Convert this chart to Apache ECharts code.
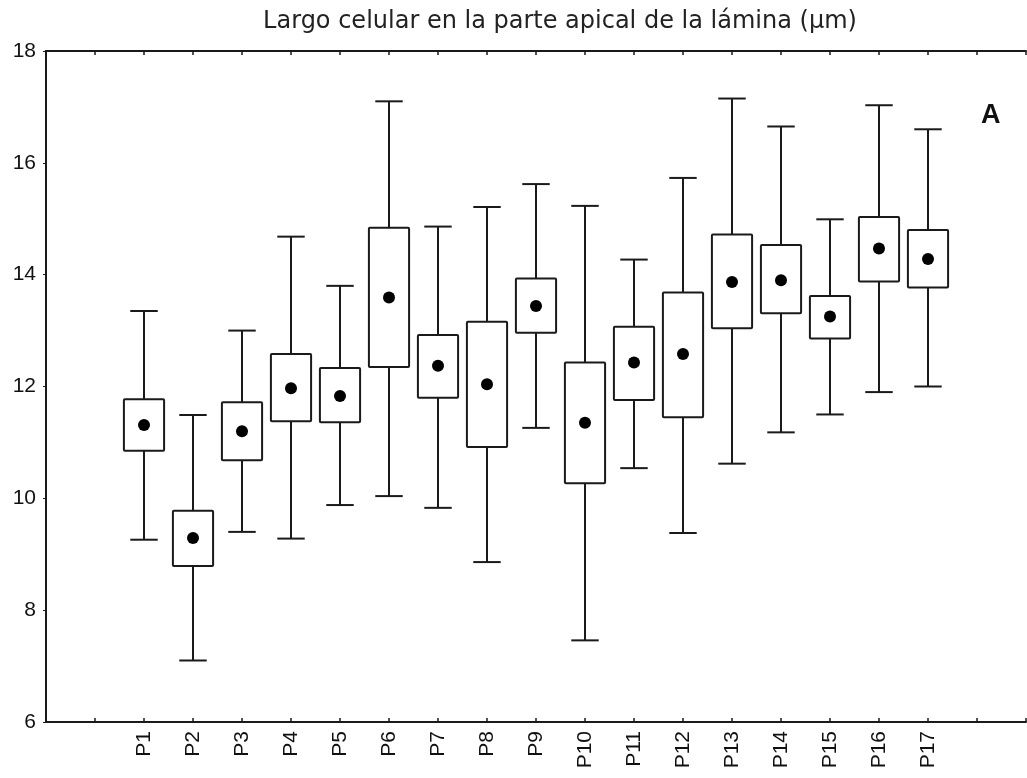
<!DOCTYPE html>
<html>
<head>
<meta charset="utf-8">
<script src="https://cdn.jsdelivr.net/npm/echarts@6/dist/echarts.min.js"></script>
<style>html,body{margin:0;padding:0;background:#fff;}#c{width:1027px;height:778px;}</style>
</head>
<body>
<div id="c"></div>
<script>
const categories = ['P1','P2','P3','P4','P5','P6','P7','P8','P9','P10','P11','P12','P13','P14','P15','P16','P17'];
const whiskerLow  = [9.26, 7.10, 9.40, 9.28, 9.88, 10.04, 9.83, 8.86, 11.26, 7.46, 10.54, 9.38, 10.62, 11.18, 11.50, 11.90, 12.00];
const boxLow      = [10.85, 8.79, 10.68, 11.38, 11.36, 12.35, 11.80, 10.92, 12.96, 10.27, 11.76, 11.45, 13.04, 13.31, 12.86, 13.88, 13.77];
const means       = [11.31, 9.29, 11.20, 11.97, 11.83, 13.59, 12.37, 12.04, 13.44, 11.35, 12.43, 12.58, 13.87, 13.90, 13.25, 14.47, 14.28];
const boxHigh     = [11.77, 9.78, 11.72, 12.58, 12.33, 14.84, 12.92, 13.16, 13.93, 12.43, 13.07, 13.68, 14.72, 14.53, 13.62, 15.03, 14.80];
const whiskerHigh = [13.35, 11.49, 13.00, 14.68, 13.80, 17.10, 14.86, 15.21, 15.62, 15.23, 14.27, 15.73, 17.15, 16.65, 14.99, 17.03, 16.60];
const yTicks = [6, 8, 10, 12, 14, 16, 18];
const titleText = 'Largo celular en la parte apical de la lámina (µm)';
const panelLetter = 'A';

const OFFSET = 2; // two empty tick slots before P1
const boxData = categories.map((c, i) => [i + OFFSET, whiskerLow[i], boxLow[i], boxHigh[i], whiskerHigh[i]]);
const meanData = categories.map((c, i) => [i + OFFSET, means[i]]);

function renderBox(params, api) {
  const x = api.value(0);
  const pLo = api.coord([x, api.value(1)]);
  const pQ1 = api.coord([x, api.value(2)]);
  const pQ3 = api.coord([x, api.value(3)]);
  const pHi = api.coord([x, api.value(4)]);
  const band = api.size([1, 0])[0];
  const bw = band * 0.82;
  const cw = band * 0.56;
  const style = { stroke: '#1a1a1a', lineWidth: 2, fill: '#fff' };
  const lstyle = { stroke: '#1a1a1a', lineWidth: 2 };
  return {
    type: 'group',
    children: [
      { type: 'line', shape: { x1: pHi[0], y1: pHi[1], x2: pQ3[0], y2: pQ3[1] }, style: lstyle },
      { type: 'line', shape: { x1: pQ1[0], y1: pQ1[1], x2: pLo[0], y2: pLo[1] }, style: lstyle },
      { type: 'line', shape: { x1: pHi[0] - cw / 2, y1: pHi[1], x2: pHi[0] + cw / 2, y2: pHi[1] }, style: lstyle },
      { type: 'line', shape: { x1: pLo[0] - cw / 2, y1: pLo[1], x2: pLo[0] + cw / 2, y2: pLo[1] }, style: lstyle },
      { type: 'rect', shape: { x: pQ3[0] - bw / 2, y: pQ3[1], width: bw, height: pQ1[1] - pQ3[1], r: 1 }, style: style }
    ]
  };
}

const chart = echarts.init(document.getElementById('c'), null, { renderer: 'canvas' });
const labelFont = { fontFamily: 'Liberation Sans, Arial, sans-serif', fontSize: 21, color: '#111' };
const xMax = categories.length + OFFSET + 1;

chart.setOption({
  animation: false,
  backgroundColor: '#fff',
  title: [
    { text: titleText, left: 555, top: 5, textAlign: 'center',
      textStyle: { fontFamily: 'DejaVu Sans, sans-serif', fontSize: 24, fontWeight: 'normal', color: '#222' } },
    { text: panelLetter, left: 976, top: 97,
      textStyle: { fontFamily: 'Liberation Sans, Arial, sans-serif', fontSize: 27, fontWeight: 'bold', color: '#111' } }
  ],
  grid: { left: 46, right: 1, top: 51, bottom: 56, containLabel: false },
  xAxis: [
    { type: 'value', min: 0, max: xMax, interval: 1, position: 'bottom',
      axisLine: { show: true, lineStyle: { color: '#1a1a1a', width: 2 } },
      axisTick: { show: true, inside: true, length: 4, lineStyle: { color: '#1a1a1a', width: 1.5 } },
      splitLine: { show: false },
      axisLabel: Object.assign({ rotate: 90, margin: 9, showMinLabel: true, showMaxLabel: true,
        formatter: v => categories[v - OFFSET] || '' }, labelFont) },
    { type: 'value', min: 0, max: xMax, interval: 1, position: 'top',
      axisLine: { show: true, lineStyle: { color: '#1a1a1a', width: 2 } },
      axisTick: { show: true, inside: true, length: 4, lineStyle: { color: '#1a1a1a', width: 1.5 } },
      splitLine: { show: false }, axisLabel: { show: false } }
  ],
  yAxis: [
    { type: 'value', min: yTicks[0], max: yTicks[yTicks.length - 1], interval: 2, position: 'left',
      axisLine: { show: true, lineStyle: { color: '#1a1a1a', width: 2 } },
      axisTick: { show: true, inside: false, length: 3, lineStyle: { color: '#1a1a1a', width: 1 } },
      splitLine: { show: false },
      axisLabel: Object.assign({ margin: 10 }, labelFont) },
    { type: 'value', min: yTicks[0], max: yTicks[yTicks.length - 1], interval: 2, position: 'right',
      axisLine: { show: true, lineStyle: { color: '#1a1a1a', width: 2 } },
      axisTick: { show: false }, splitLine: { show: false }, axisLabel: { show: false } }
  ],
  series: [
    { type: 'custom', renderItem: renderBox, data: boxData, xAxisIndex: 0, yAxisIndex: 0,
      encode: { x: 0, y: [1, 2, 3, 4] }, clip: false, z: 2 },
    { type: 'scatter', data: meanData, xAxisIndex: 0, yAxisIndex: 0, symbol: 'circle', symbolSize: 12,
      itemStyle: { color: '#000', opacity: 1 }, z: 3 }
  ]
});
</script>
</body>
</html>
